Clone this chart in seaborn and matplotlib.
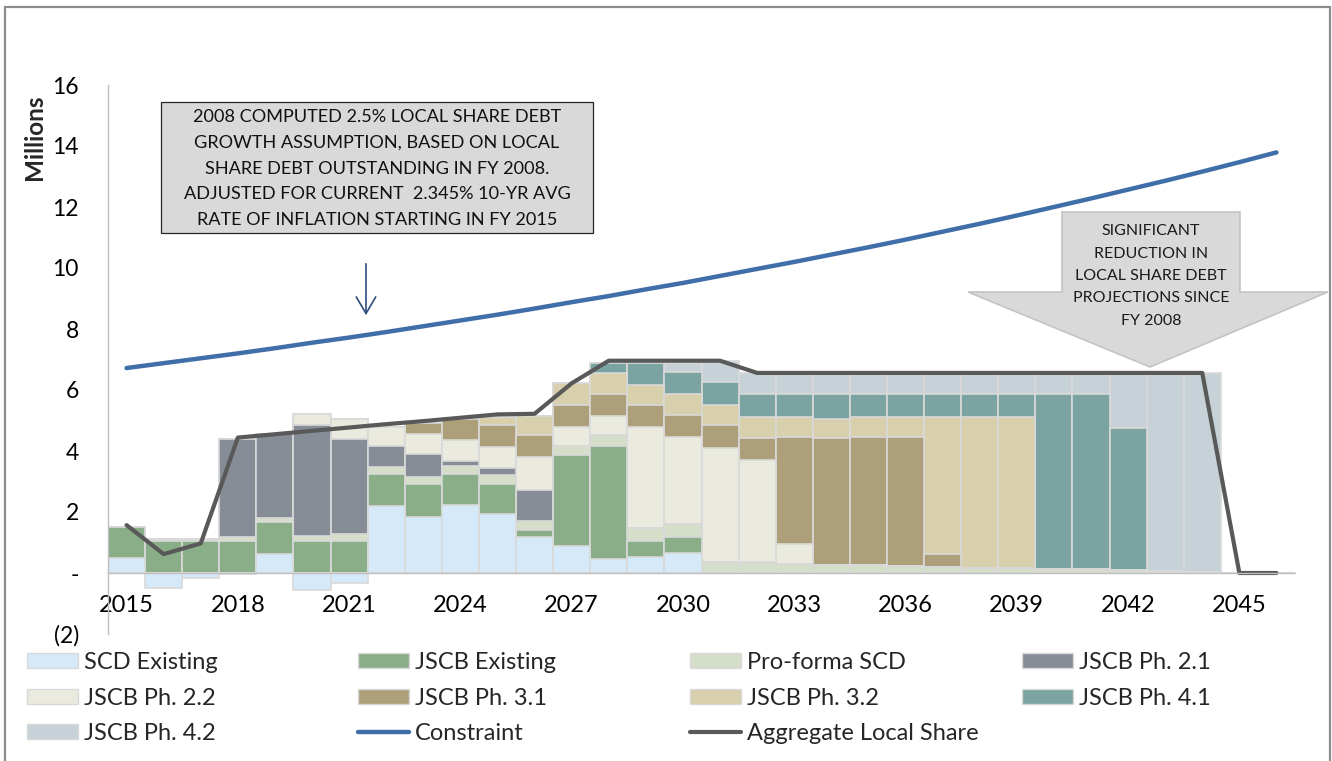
import numpy as np
import pandas as pd
import seaborn as sns
import matplotlib.pyplot as plt
from matplotlib.patches import Patch, Polygon, Rectangle
from matplotlib.lines import Line2D

# fiscal years on the category axis
years = [str(y) for y in range(2015, 2047)]
tick_years = years[::3]

# debt service by series (millions), 2015..2046
scd_existing = [0.50, -0.50, -0.17, -0.03, 0.62, -0.56, -0.34, 2.19, 1.84, 2.22, 1.95, 1.19, 0.88, 0.45, 0.53, 0.66,
                0, 0, 0, 0, 0, 0, 0, 0, 0, 0, 0, 0, 0, 0, 0, 0]
jscb_existing = [1.01, 1.06, 1.06, 1.06, 1.06, 1.06, 1.06, 1.05, 1.09, 1.02, 0.98, 0.22, 3.00, 3.73, 0.53, 0.53,
                 0, 0, 0, 0, 0, 0, 0, 0, 0, 0, 0, 0, 0, 0, 0, 0]
proforma_scd = [0.00, 0.07, 0.07, 0.11, 0.11, 0.16, 0.22, 0.23, 0.22, 0.26, 0.27, 0.30, 0.30, 0.36, 0.40, 0.41,
                0.36, 0.32, 0.30, 0.27, 0.26, 0.23, 0.20, 0.18, 0.15, 0.13, 0.12, 0.10, 0.05, 0.02, 0, 0]
jscb_21 = [0, 0, 0, 3.23, 2.76, 3.62, 3.12, 0.68, 0.76, 0.16, 0.25, 1.02, 0, 0, 0, 0,
           0, 0.04, 0, 0, 0, 0, 0, 0, 0, 0, 0, 0, 0, 0, 0, 0]
jscb_22 = [0, 0, 0, 0, 0, 0.36, 0.65, 0.65, 0.65, 0.69, 0.68, 1.07, 0.62, 0.62, 3.32, 2.85,
           3.75, 3.35, 0.64, 0, 0, 0, 0, 0, 0, 0, 0, 0, 0, 0, 0, 0]
jscb_31 = [0, 0, 0, 0, 0, 0, 0, 0, 0.35, 0.70, 0.71, 0.71, 0.72, 0.71, 0.73, 0.74,
           0.73, 0.72, 3.51, 4.14, 4.19, 4.22, 0.42, 0, 0, 0, 0, 0, 0, 0, 0, 0]
jscb_32 = [0, 0, 0, 0, 0, 0, 0, 0, 0, 0, 0.27, 0.65, 0.70, 0.68, 0.67, 0.68,
           0.68, 0.68, 0.68, 0.65, 0.68, 0.68, 4.51, 4.93, 4.96, 0, 0, 0, 0, 0, 0, 0]
jscb_41 = [0, 0, 0, 0, 0, 0, 0, 0, 0, 0, 0, 0, 0, 0.35, 0.69, 0.73,
           0.73, 0.76, 0.74, 0.82, 0.74, 0.74, 0.74, 0.76, 0.76, 5.74, 5.75, 4.66, 0, 0, 0, 0]
jscb_42 = [0, 0, 0, 0, 0, 0, 0, 0, 0, 0, 0, 0, 0, 0, 0, 0.27,
           0.69, 0.68, 0.68, 0.68, 0.68, 0.68, 0.68, 0.68, 0.68, 0.68, 0.68, 1.79, 6.50, 6.53, 0, 0]

constraint = [6.72, 6.88, 7.04, 7.20, 7.37, 7.55, 7.72, 7.90, 8.09, 8.28, 8.47, 8.67, 8.88, 9.08, 9.30, 9.51,
              9.74, 9.97, 10.20, 10.44, 10.68, 10.93, 11.19, 11.45, 11.72, 12.00, 12.28, 12.57, 12.86, 13.16,
              13.47, 13.79]
aggregate = [1.57, 0.62, 0.97, 4.44, 4.55, 4.66, 4.77, 4.88, 4.98, 5.09, 5.20, 5.22, 6.22, 6.96, 6.96, 6.96,
             6.96, 6.56, 6.56, 6.56, 6.56, 6.56, 6.56, 6.56, 6.56, 6.56, 6.56, 6.56, 6.56, 6.56, 0.00, 0.00]

series = ["SCD Existing", "JSCB Existing", "Pro-forma SCD", "JSCB Ph. 2.1", "JSCB Ph. 2.2",
          "JSCB Ph. 3.1", "JSCB Ph. 3.2", "JSCB Ph. 4.1", "JSCB Ph. 4.2"]
colors = ["#D5E9F9", "#8AAF88", "#D4DEC9", "#868D97", "#EAEADF",
          "#AD9F79", "#D8CFAD", "#7BA3A1", "#C6D1D8"]
edge = "#D9D9D9"
blue = "#3F6EA8"
grey = "#595959"

W, H = 1332, 761
def fx(x):
    return x / W
def fy(y):
    return 1 - y / H

sns.set_style("white")
plt.rcParams["font.family"] = ["Lato", "DejaVu Sans"]

fig = plt.figure(figsize=(W / 100, H / 100), dpi=100)
ax = fig.add_axes([fx(108), fy(634), (1295 - 108) / W, (634 - 85) / H])

# stacked bars: draw cumulative tops from the highest layer down
layers = [np.clip(scd_existing, 0, None), jscb_existing, proforma_scd, jscb_21, jscb_22,
          jscb_31, jscb_32, jscb_41, jscb_42]
tops = np.cumsum(np.array(layers, dtype=float), axis=0)
bar_kw = dict(order=years, width=1.0, saturation=1, edgecolor=edge, linewidth=1.2, errorbar=None, ax=ax)
for i in range(len(layers) - 1, -1, -1):
    sns.barplot(x=years, y=tops[i], color=colors[i], **bar_kw)
sns.barplot(x=years, y=np.clip(scd_existing, None, 0), color=colors[0], **bar_kw)

lines = pd.DataFrame({"year": years, "Constraint": constraint, "Aggregate": aggregate})
sns.lineplot(data=lines, x="year", y="Constraint", color=blue, lw=3.2, errorbar=None,
             legend=False, solid_capstyle="round", ax=ax)
sns.lineplot(data=lines, x="year", y="Aggregate", color=grey, lw=3.0, errorbar=None,
             legend=False, solid_capstyle="round", ax=ax)

ax.set_xlim(-0.5, len(years) - 0.5)
ax.set_ylim(-2, 16)
yt = list(range(-2, 17, 2))
ax.set_yticks(yt)
ax.set_yticklabels(["-" if v == 0 else f"({-v})" if v < 0 else str(v) for v in yt])
ax.set_xticks(tick_years)
ax.set_xticklabels(tick_years)
ax.set_xlabel("")
ax.set_ylabel("")
sns.despine(ax=ax)
ax.spines["bottom"].set_position(("data", 0))
for s in ("left", "bottom"):
    ax.spines[s].set_color("#BFBFBF")
    ax.spines[s].set_linewidth(1.0)
ax.tick_params(axis="y", length=5, width=1, color="#BFBFBF", pad=16, labelsize=16.5, labelcolor="black")
ax.tick_params(axis="x", length=0, pad=16, labelsize=17, labelcolor="black")

fig.text(fx(35), fy(137), "Millions", rotation=90, fontweight="bold", fontsize=17.5,
         ha="center", va="center")

# note box with arrow
fig.patches.append(Rectangle((fx(161), fy(233)), (593 - 161) / W, (233 - 102) / H,
                             transform=fig.transFigure, facecolor="#D9D9D9", edgecolor="#262626", lw=0.9))
note = ["2008 COMPUTED 2.5% LOCAL SHARE DEBT", "GROWTH ASSUMPTION, BASED ON LOCAL",
        "SHARE DEBT OUTSTANDING IN FY 2008.", "ADJUSTED FOR CURRENT  2.345% 10-YR AVG",
        "RATE OF INFLATION STARTING IN FY 2015"]
for k, t in enumerate(note):
    fig.text(fx(377), fy(117 + 25.8 * k), t, ha="center", va="center", fontsize=13.1, color="#111111")
ax.annotate("", xy=(fx(366), fy(318)), xytext=(fx(366), fy(261)), xycoords="figure fraction",
            textcoords="figure fraction",
            arrowprops=dict(arrowstyle="->,head_length=1.2,head_width=0.7", color="#2E4E7E", lw=1.2))

# block arrow callout
pts = [(1062, 212), (1240, 212), (1240, 292), (1328, 292), (1150, 367), (968, 292), (1062, 292)]
fig.patches.append(Polygon([(fx(a), fy(b)) for a, b in pts], closed=True, transform=fig.transFigure,
                           facecolor="#D9D9D9", edgecolor="#C4C4C4", lw=1.2))
callout = ["SIGNIFICANT", "REDUCTION IN", "LOCAL SHARE DEBT", "PROJECTIONS SINCE", "FY 2008"]
for k, t in enumerate(callout):
    fig.text(fx(1151), fy(231 + 22.5 * k), t, ha="center", va="center", fontsize=11.5, color="#1A1A1A")

# legend, four columns laid out like the original
patch = {s: Patch(facecolor=c, edgecolor=edge, lw=1) for s, c in zip(series, colors)}
line_h = {"Constraint": Line2D([], [], color=blue, lw=3.2, solid_capstyle="round"),
          "Aggregate Local Share": Line2D([], [], color=grey, lw=3.0, solid_capstyle="round")}
handles = {**patch, **line_h}
columns = [["SCD Existing", "JSCB Ph. 2.2", "JSCB Ph. 4.2"],
           ["JSCB Existing", "JSCB Ph. 3.1", "Constraint"],
           ["Pro-forma SCD", "JSCB Ph. 3.2", "Aggregate Local Share"],
           ["JSCB Ph. 2.1", "JSCB Ph. 4.1"]]
col_x = [27, 358, 690, 1022]
for cx, col in zip(col_x, columns):
    fig.legend([handles[n] for n in col], col, loc="upper left", bbox_to_anchor=(fx(cx), fy(652)),
               frameon=False, fontsize=17, borderpad=0, borderaxespad=0, handlelength=2.15,
               handleheight=0.6, handletextpad=0.28, labelspacing=0.62)

# outer chart frame
fig.patches.append(Rectangle((fx(5), -0.02), (1330 - 5) / W, 1.02 - 7 / H, transform=fig.transFigure,
                             fill=False, edgecolor="#8C8C8C", lw=1.6))

fig.savefig("out.png", dpi=100)
